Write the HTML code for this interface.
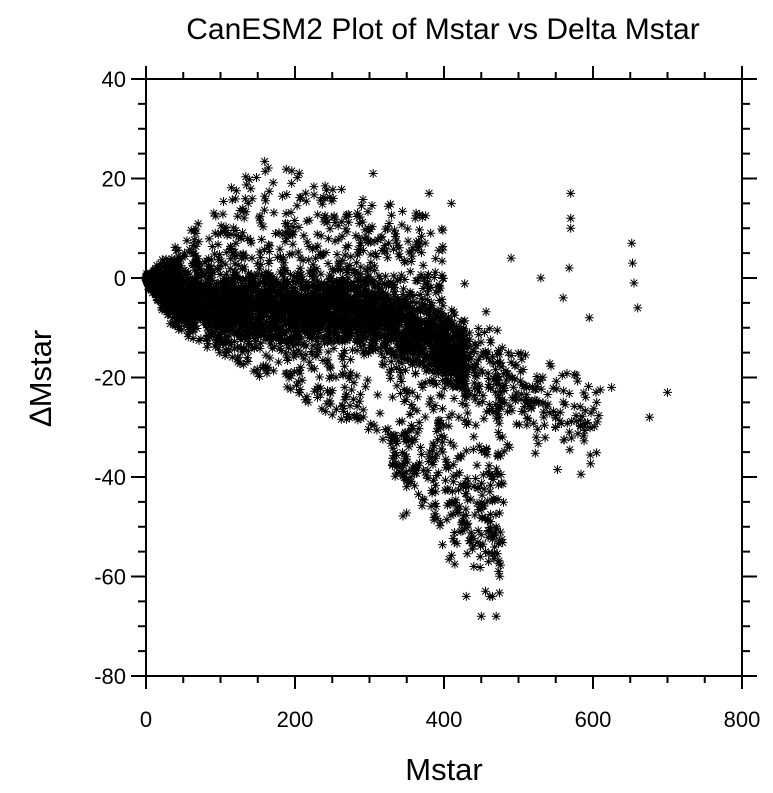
<!DOCTYPE html>
<html><head><meta charset="utf-8"><style>
html,body{margin:0;padding:0;background:#fff;}
svg{display:block;font-family:"Liberation Sans",sans-serif;}
.lb text{font-size:22px;}
</style></head><body>
<svg id="s" width="773" height="793" viewBox="0 0 773 793" xmlns="http://www.w3.org/2000/svg">
<text x="443" y="39" style="font-size:30px" text-anchor="middle">CanESM2 Plot of Mstar vs Delta Mstar</text>
<text x="444" y="780" style="font-size:31px" text-anchor="middle">Mstar</text>
<text transform="translate(51,378) rotate(-90)" style="font-size:31px" text-anchor="middle">∆Mstar</text>
<g id="pts" stroke="#000" stroke-width="1" fill="none"></g>
<rect x="146" y="79" width="596" height="597" fill="none" stroke="#000" stroke-width="2"/>
<g id="ax" stroke="#000" stroke-width="2"></g>
<g id="lb" class="lb"></g>
</svg>
<script>
(function(){
var X0=146,X1=742,Y0=79,Y1=676;
function px(x){return X0+(x/800)*(X1-X0);}
function py(y){return Y0+(40-y)/120*(Y1-Y0);}
var ax=document.getElementById('ax'),lb=document.getElementById('lb'),s='';var t='';
for(var x=0;x<=800;x+=50){var p=px(x),L=(x%200==0)?13:7;
s+='<line x1="'+p+'" x2="'+p+'" y1="'+Y1+'" y2="'+(Y1+L)+'"/><line x1="'+p+'" x2="'+p+'" y1="'+Y0+'" y2="'+(Y0-L)+'"/>';
if(x%200==0)t+='<text x="'+p+'" y="727" text-anchor="middle">'+x+'</text>';}
for(var y=-80;y<=40;y+=5){var p=py(y),L=(y%20==0)?15:8;
s+='<line y1="'+p+'" y2="'+p+'" x1="'+X0+'" x2="'+(X0-L)+'"/><line y1="'+p+'" y2="'+p+'" x1="'+X1+'" x2="'+(X1+L)+'"/>';
if(y%20==0)t+='<text x="126" y="'+(p+8)+'" text-anchor="end">'+y+'</text>';}
ax.innerHTML=s;lb.innerHTML=t;
var a32=987654321;function r(){a32|=0;a32=a32+0x6D2B79F5|0;var q=Math.imul(a32^a32>>>15,1|a32);q=q+Math.imul(q^q>>>7,61|q)^q;return((q^q>>>14)>>>0)/4294967296;}
function g(){return (r()+r()+r()+r()-2)*1.22;}
var parts=[],d='';
function star(x,y){if(!(x>=0&&x<=800&&y>=-80&&y<=40))return;var a=px(x),b=py(y);
d+='M'+(a-4.5).toFixed(1)+' '+b.toFixed(1)+'h9M'+a.toFixed(1)+' '+(b-4.5).toFixed(1)+'v9M'+(a-3.3).toFixed(1)+' '+(b-3.3).toFixed(1)+'l6.6 6.6M'+(a-3.3).toFixed(1)+' '+(b+3.3).toFixed(1)+'l6.6 -6.6';}
function flush(){parts.push(d);d='';}
function mean(x){if(x<40)return -x*0.12;if(x<300)return -5-(x-40)*0.008;return -7-(x-300)*0.07;}
var i,x;
for(i=0;i<2600;i++){x=Math.pow(r(),1.15)*430;var sd=Math.min(5,0.5+x*0.08);star(x,mean(x)+g()*sd);}flush();
for(i=0;i<120;i++){x=400+r()*70;star(x,mean(x)+g()*7);}flush();
for(i=0;i<300;i++){x=r()*45;star(x,-x*0.05+g()*x*0.12);}flush();
for(i=0;i<750;i++){x=r()*400;var tp=x<150?x*0.16:24-(x-150)*0.05;var m=mean(x);star(x,m+Math.pow(r(),1.4)*(tp-m));}flush();
for(i=0;i<550;i++){x=80+r()*400;var bot=x<300?-14-(x-80)*0.08:-32-(x-300)*0.2;var m2=mean(x);star(x,m2-r()*(m2-bot));}flush();
for(i=0;i<150;i++){x=330+r()*150;star(x,-35+g()*9-(x-330)*0.1);}flush();
for(i=0;i<180;i++){x=470+Math.pow(r(),1.4)*140;star(x,-22+g()*7-(x-470)*0.06);}flush();
var extra=[[570,17],[570,12],[570,10],[568,2],[652,7],[653,3],[655,-1],[660,-6],[595,-8],[560,-4],[700,-23],[676,-28],[625,-22],[605,-25],[305,21],[380,17],[410,15],[440,-58],[450,-68],[470,-68],[465,-64],[430,-64],[490,4],[530,0]];
for(i=0;i<extra.length;i++)star(extra[i][0],extra[i][1]);flush();
var G=document.getElementById('pts'),NS='http://www.w3.org/2000/svg';
for(i=0;i<parts.length;i++){if(!parts[i])continue;var e=document.createElementNS(NS,'path');e.setAttribute('d',parts[i]);G.appendChild(e);}
})();
</script>
</body></html>
